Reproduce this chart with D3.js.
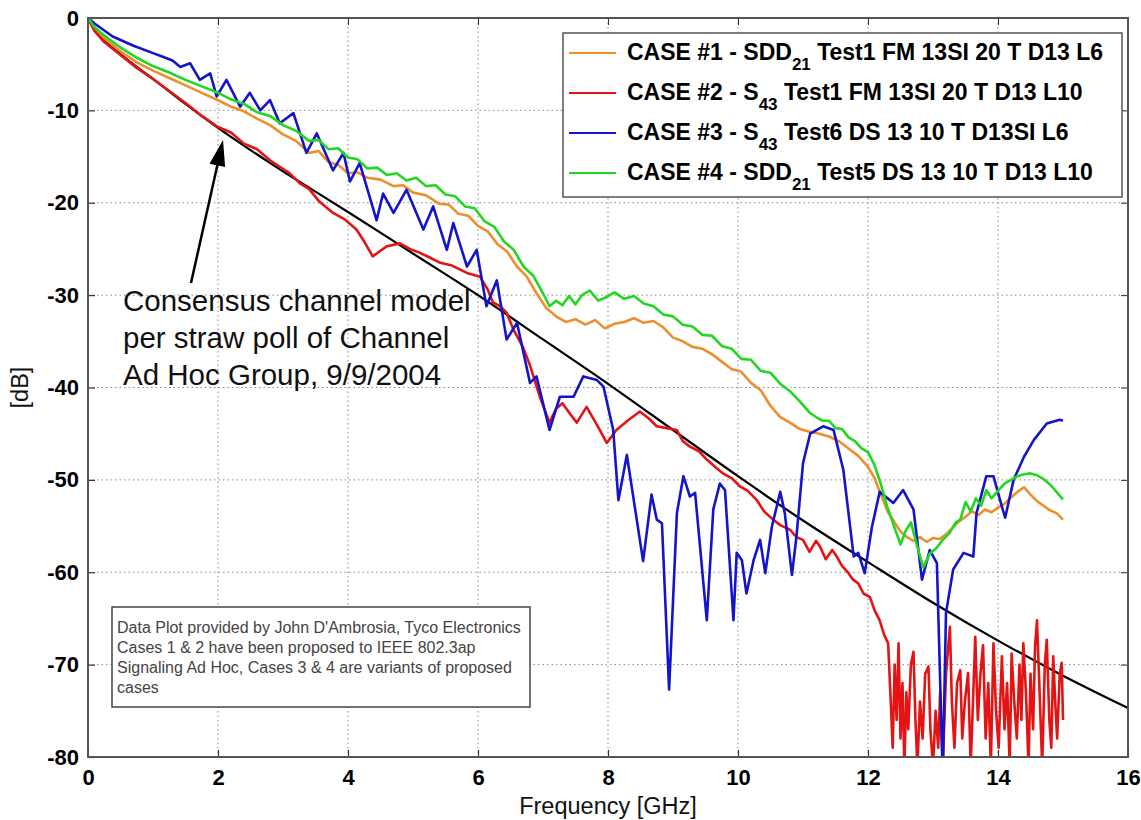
<!DOCTYPE html>
<html>
<head>
<meta charset="utf-8">
<title>Channel models</title>
<script src="https://cdn.jsdelivr.net/npm/d3@7"></script>
<style>
body { margin: 0; background: #fff; }
.ax-title { font: 23.5px "Liberation Sans", Arial, sans-serif; fill: #111; }
.legend text { font: bold 23px "Liberation Sans", Arial, sans-serif; fill: #000; }
.note text { font: 16px "Liberation Sans", Arial, sans-serif; fill: #444; }
.callout text { font: 29.5px "Liberation Sans", Arial, sans-serif; fill: #111; }
.grid line { stroke: #888; stroke-width: 1; stroke-dasharray: 1.5,3; }
text.tlbl { font-family: "Liberation Sans", Arial, sans-serif !important; font-size: 22px !important; font-weight: 700 !important; fill: #000; }
</style>
</head>
<body>
<div id="chart"></div>
<script>
// axis ticks
var freqTicks = [0, 2, 4, 6, 8, 10, 12, 14, 16];
var dbTicks = [0, -10, -20, -30, -40, -50, -60, -70, -80];

// legend
var legendPre = ["CASE #1 - SDD", "CASE #2 - S", "CASE #3 - S", "CASE #4 - SDD"];
var legendSub = ["21", "43", "43", "21"];
var legendPost = [" Test1 FM 13SI 20 T D13 L6", " Test1 FM 13SI 20 T D13 L10",
                  " Test6 DS 13 10 T D13SI L6", " Test5 DS 13 10 T D13 L10"];
var colors = ["#ec8f2c", "#e41414", "#1414c8", "#22d622"];

var noteLines = ["Data Plot provided by John D'Ambrosia, Tyco Electronics",
                 "Cases 1 & 2 have been proposed to IEEE 802.3ap",
                 "Signaling Ad Hoc, Cases 3 & 4 are variants of proposed",
                 "cases"];
var calloutLines = ["Consensus channel model", "per straw poll of Channel", "Ad Hoc Group, 9/9/2004"];

// consensus model (black) [GHz, dB]
var model = [[0,0],[0.1,-1.3],[0.25,-2.4],[0.5,-3.9],[0.75,-5.3],[1,-6.6],[1.5,-9.3],[2,-11.9],
  [2.5,-14.3],[3,-16.6],[3.5,-18.8],[4,-21],[5,-25.5],[6,-30],[7,-34.8],[8,-39.6],[9,-44.6],
  [10,-49.6],[11,-54.4],[12,-58.9],[13,-63.3],[14,-67.4],[15,-71.2],[16,-74.7]];

// case 1 (orange)
var case1 = [[0,0],[0.1,-1.2],[0.25,-2.2],[0.5,-3.6],[0.75,-4.8],[1,-5.7],[1.25,-6.5],[1.5,-7.3],
  [1.75,-8.1],[2,-8.9],[2.2,-9.6],[2.4,-10.1],[2.6,-10.9],[2.8,-11.6],[3,-12.6],[3.2,-13.3],
  [3.4,-14.6],[3.55,-14.4],[3.7,-15.6],[3.85,-15.9],[4,-16.8],[4.15,-16.7],[4.3,-17.3],[4.5,-17.5],
  [4.7,-18.2],[4.85,-18.1],[5,-18.9],[5.2,-19.2],[5.4,-20.1],[5.55,-20.2],[5.7,-21.2],[5.85,-21.4],
  [6,-22.5],[6.15,-23.1],[6.3,-24.5],[6.45,-25.3],[6.6,-26.9],[6.75,-28],[6.9,-29.8],[7.05,-31.4],
  [7.2,-32.3],[7.35,-32.9],[7.5,-32.6],[7.65,-33.2],[7.8,-32.7],[7.95,-33.6],[8.1,-33.1],[8.25,-32.9],
  [8.4,-32.5],[8.55,-33],[8.7,-32.8],[8.85,-33.5],[9,-34.6],[9.15,-35],[9.3,-35.6],[9.45,-35.8],
  [9.6,-36.4],[9.75,-37.2],[9.9,-38],[10.05,-38.3],[10.2,-39.5],[10.35,-40.3],[10.5,-42],[10.65,-43.2],
  [10.8,-43.8],[10.95,-44.5],[11.1,-44.8],[11.25,-45],[11.4,-45.3],[11.55,-45.8],[11.7,-46.6],
  [11.85,-47.4],[12,-48.6],[12.1,-49.8],[12.2,-51.6],[12.3,-53.4],[12.4,-54.5],[12.5,-55.6],
  [12.6,-56.2],[12.7,-56.6],[12.8,-56.2],[12.9,-56.7],[13,-56.3],[13.1,-56.4],[13.2,-55.9],
  [13.3,-55.2],[13.4,-54.5],[13.5,-54],[13.6,-53.4],[13.7,-53.8],[13.8,-53.2],[13.9,-53.5],
  [14,-53],[14.1,-52.6],[14.2,-51.9],[14.3,-51.3],[14.4,-50.8],[14.5,-51.6],[14.6,-52.3],
  [14.7,-52.8],[14.8,-53.3],[14.9,-53.6],[15,-54.3]];

// case 2 (red)
var case2 = [[0,0],[0.1,-1.4],[0.25,-2.6],[0.5,-4],[0.75,-5.4],[1,-6.6],[1.25,-7.9],[1.5,-9.2],
  [1.75,-10.6],[2,-11.8],[2.2,-12.4],[2.4,-13.6],[2.6,-14.2],[2.8,-15.4],[2.95,-16.1],[3.1,-16.8],
  [3.26,-17.9],[3.4,-18.5],[3.55,-19.8],[3.77,-21.1],[3.95,-21.8],[4.13,-22.9],[4.25,-24.2],
  [4.38,-25.8],[4.5,-25.2],[4.6,-24.7],[4.8,-24.4],[4.95,-25],[5.1,-25.4],[5.25,-25.9],[5.42,-26.5],
  [5.6,-26.8],[5.83,-27.6],[6.03,-28],[6.15,-29.4],[6.23,-30.8],[6.34,-31.2],[6.44,-31.9],
  [6.55,-33.8],[6.69,-35.6],[6.8,-37.6],[6.95,-41],[7.1,-43.8],[7.2,-42.3],[7.3,-41.7],[7.42,-42.9],
  [7.52,-43.8],[7.67,-42.1],[7.85,-44.3],[7.98,-46],[8.13,-44.6],[8.3,-43.6],[8.49,-42.6],
  [8.62,-43.3],[8.75,-44.2],[8.9,-44.4],[9.06,-44.6],[9.15,-45.8],[9.26,-46.4],[9.4,-46.9],
  [9.52,-47.8],[9.65,-48.6],[9.77,-49.3],[9.9,-49.8],[10.03,-50.7],[10.15,-51.2],[10.29,-52.2],
  [10.4,-53.4],[10.54,-54.3],[10.65,-54.9],[10.8,-55.4],[10.9,-56.2],[11,-56.5],[11.1,-57.8],
  [11.2,-56.6],[11.26,-57.2],[11.35,-58.6],[11.45,-57.6],[11.52,-58.3],[11.6,-59.3],[11.7,-60.1],
  [11.77,-60.8],[11.85,-61.2],[11.93,-62.3],[12.03,-62.7],[12.1,-64.1],[12.18,-65.2],[12.25,-66.8],
  [12.31,-67.7],[12.35,-74],[12.38,-79],[12.41,-70],[12.44,-76],[12.47,-67.7],[12.5,-78],
  [12.53,-72],[12.56,-81],[12.59,-73],[12.62,-77],[12.66,-70],[12.7,-68.6],[12.73,-76],[12.76,-81],
  [12.8,-74],[12.84,-78],[12.88,-71],[12.93,-70.2],[12.96,-77],[13,-81],[13.04,-75],[13.08,-79],
  [13.11,-73],[13.15,-81],[13.2,-71],[13.26,-65.9],[13.29,-74],[13.33,-79],[13.37,-72],[13.42,-70.6],
  [13.45,-78],[13.49,-74],[13.54,-70.9],[13.58,-81],[13.62,-73],[13.65,-67],[13.69,-76],[13.73,-71],
  [13.77,-67.9],[13.81,-78],[13.85,-72],[13.89,-81],[13.93,-67.7],[13.97,-75],[14.01,-79],
  [14.06,-69.1],[14.1,-77],[14.14,-72],[14.18,-81],[14.21,-68.8],[14.25,-74],[14.29,-78],
  [14.33,-70],[14.36,-76],[14.39,-67.7],[14.43,-73],[14.47,-81],[14.5,-71],[14.54,-77],[14.57,-68],
  [14.6,-65.2],[14.64,-73],[14.68,-81],[14.72,-70],[14.75,-67.3],[14.79,-76],[14.82,-79],
  [14.85,-69.1],[14.88,-74],[14.91,-78],[14.95,-71],[14.98,-69.8],[15,-76]];

// case 3 (blue)
var case3 = [[0,0],[0.1,-0.6],[0.38,-2],[0.7,-3],[1,-3.8],[1.15,-4.2],[1.3,-4.6],[1.42,-5.3],
  [1.57,-4.9],[1.72,-6.7],[1.88,-6],[1.98,-8.5],[2.13,-6.7],[2.34,-9.6],[2.49,-8.1],[2.65,-10],
  [2.8,-8.9],[2.95,-11.4],[3.16,-10.3],[3.36,-14.6],[3.52,-12.5],[3.77,-16.5],[3.93,-14.6],
  [4.03,-17.7],[4.18,-15.7],[4.44,-21.9],[4.54,-19],[4.7,-21.1],[4.9,-18.6],[5.16,-22.9],
  [5.31,-20.4],[5.52,-25.1],[5.62,-22.2],[5.83,-26.9],[5.98,-25.1],[6.13,-31.2],[6.29,-28.4],
  [6.44,-34.8],[6.6,-33],[6.8,-39.5],[6.9,-38.8],[7.1,-44.6],[7.26,-41],[7.47,-41],[7.62,-38.8],
  [7.83,-39.2],[7.93,-39.9],[8.08,-44.6],[8.16,-52.2],[8.29,-47.3],[8.54,-58.8],[8.67,-51.6],
  [8.75,-54.3],[8.83,-54.7],[8.94,-72.7],[9.06,-53.6],[9.16,-49.6],[9.26,-51.8],[9.34,-51.4],
  [9.52,-65.2],[9.62,-53.2],[9.72,-50.4],[9.8,-51.1],[9.93,-65.2],[9.98,-57.9],[10.06,-58.7],
  [10.13,-62.3],[10.24,-58.7],[10.34,-56.5],[10.42,-60.1],[10.52,-55.1],[10.65,-51.3],[10.72,-53.6],
  [10.83,-60.3],[10.9,-56.1],[11,-48.2],[11.11,-45],[11.31,-44.2],[11.47,-44.6],[11.62,-48.9],
  [11.78,-58.3],[11.85,-57.9],[11.95,-60.1],[12.06,-55.1],[12.18,-51.3],[12.39,-52.5],[12.54,-51.1],
  [12.7,-53.2],[12.83,-60.8],[12.95,-57.6],[13.06,-59],[13.15,-82],[13.2,-64.4],[13.31,-59.7],
  [13.47,-57.9],[13.62,-58.3],[13.67,-53.6],[13.82,-49.6],[13.93,-49.6],[14.06,-52.9],[14.11,-54.1],
  [14.24,-50],[14.4,-47.5],[14.55,-45.7],[14.75,-43.9],[14.95,-43.5],[15,-43.6]];

// case 4 (green)
var case4 = [[0,0],[0.1,-1],[0.25,-1.9],[0.5,-3.2],[0.75,-4.3],[1,-5.2],[1.25,-5.9],[1.5,-6.7],
  [1.75,-7.4],[2,-8.1],[2.2,-8.8],[2.4,-9.3],[2.6,-10.2],[2.8,-10.6],[3,-11.6],[3.2,-12.2],
  [3.4,-13.3],[3.55,-13.2],[3.7,-14.2],[3.85,-14.1],[4,-15.1],[4.15,-15.3],[4.3,-16.3],[4.45,-16.2],
  [4.6,-17],[4.75,-16.8],[4.9,-17.6],[5.05,-17.3],[5.2,-18.2],[5.35,-18.1],[5.5,-19.1],[5.65,-19.3],
  [5.8,-20.4],[5.95,-20.6],[6.1,-22],[6.25,-22.6],[6.4,-24.2],[6.55,-25.1],[6.7,-26.9],[6.85,-27.9],
  [7,-29.8],[7.1,-31.2],[7.2,-30.6],[7.3,-31.1],[7.4,-30.1],[7.5,-31],[7.6,-30],[7.72,-29.5],
  [7.85,-30.6],[7.98,-30.2],[8.1,-29.7],[8.25,-30.4],[8.4,-30.1],[8.55,-30.9],[8.7,-31.2],
  [8.85,-32.1],[9,-32.3],[9.15,-33.2],[9.3,-33.4],[9.45,-34.3],[9.6,-34.4],[9.75,-35.5],[9.9,-35.8],
  [10.05,-36.9],[10.2,-37],[10.35,-38.2],[10.5,-38.4],[10.65,-39.6],[10.8,-40.4],[10.95,-41.5],
  [11.1,-42.7],[11.2,-43.2],[11.3,-43.6],[11.4,-43.6],[11.5,-44.4],[11.6,-44.5],[11.7,-45.4],
  [11.8,-45.8],[11.9,-46.6],[12,-47],[12.1,-48.4],[12.2,-50.5],[12.3,-53],[12.4,-55],[12.5,-57],
  [12.58,-55.5],[12.66,-54.6],[12.75,-57],[12.85,-59.5],[12.95,-58],[13.05,-57.4],[13.15,-56.5],
  [13.25,-55.8],[13.35,-54.6],[13.42,-54.3],[13.5,-52.4],[13.58,-53.4],[13.66,-52],[13.74,-52.8],
  [13.82,-51.1],[13.9,-52],[14,-51.2],[14.1,-50.4],[14.2,-50],[14.3,-49.6],[14.4,-49.4],[14.5,-49.3],
  [14.6,-49.5],[14.7,-49.9],[14.8,-50.5],[14.9,-51.3],[15,-52.1]];

var series = [case1, case2, case3, case4];

var W = 1141, H = 820;
var margin = {top: 18, right: 13, bottom: 63, left: 88},
  width = W - margin.left - margin.right,
  height = H - margin.top - margin.bottom;

var root = d3.select("#chart").append("svg")
  .attr("width", W).attr("height", H);
var svg = root.append("g")
  .attr("transform", "translate(" + margin.left + "," + margin.top + ")");

var x = d3.scaleLinear().domain([0, 16]).range([0, width]);
var y = d3.scaleLinear().domain([-80, 0]).range([height, 0]);

svg.append("defs").append("clipPath").attr("id", "plotclip")
  .append("rect").attr("width", width).attr("height", height);

// grid
var grid = svg.append("g").attr("class", "grid");
grid.selectAll(".gx").data(freqTicks.slice(1, -1)).enter().append("line")
  .attr("x1", function(d) { return x(d); }).attr("x2", function(d) { return x(d); })
  .attr("y1", 0).attr("y2", height);
grid.selectAll(".gy").data(dbTicks.slice(1, -1)).enter().append("line")
  .attr("y1", function(d) { return y(d); }).attr("y2", function(d) { return y(d); })
  .attr("x1", 0).attr("x2", width);

// axes (labels) with inward ticks; plain hyphen for negatives
var fmt = function(d) { return String(d); };
var xAxis = d3.axisBottom(x).tickValues(freqTicks).tickSize(-7).tickPadding(12).tickFormat(fmt);
var yAxis = d3.axisLeft(y).tickValues(dbTicks).tickSize(-7).tickPadding(9).tickFormat(fmt);
var gx = svg.append("g").attr("transform", "translate(0," + height + ")").call(xAxis);
var gy = svg.append("g").call(yAxis);
[gx, gy].forEach(function(g) {
  g.select(".domain").remove();
  g.attr("font-family", null).attr("font-size", null);
  g.selectAll(".tick line").attr("stroke", "#333").attr("stroke-width", 1.2);
  g.selectAll(".tick text").attr("class", "tlbl").attr("font-weight", "bold");
});
// ticks on top and right too
svg.append("g").call(d3.axisTop(x).tickValues(freqTicks).tickSize(-7).tickFormat(""))
  .call(function(g) { g.select(".domain").remove(); g.selectAll("line").attr("stroke", "#333"); });
svg.append("g").attr("transform", "translate(" + width + ",0)")
  .call(d3.axisRight(y).tickValues(dbTicks).tickSize(-7).tickFormat(""))
  .call(function(g) { g.select(".domain").remove(); g.selectAll("line").attr("stroke", "#333"); });

// curves
var line = d3.line()
  .x(function(d) { return x(d[0]); })
  .y(function(d) { return y(d[1]); });
var plot = svg.append("g").attr("clip-path", "url(#plotclip)");
plot.append("path").datum(model)
  .attr("d", line.curve(d3.curveMonotoneX))
  .attr("fill", "none").attr("stroke", "#000").attr("stroke-width", 2.2);
line.curve(d3.curveLinear);
series.forEach(function(s, i) {
  plot.append("path").datum(s)
    .attr("d", line)
    .attr("fill", "none")
    .attr("stroke", colors[i])
    .attr("stroke-width", 2.6)
    .attr("stroke-linejoin", "round");
});

// frame
svg.append("rect").attr("width", width).attr("height", height)
  .attr("fill", "none").attr("stroke", "#555").attr("stroke-width", 2);

// axis titles
svg.append("text").attr("class", "ax-title")
  .attr("x", width / 2).attr("y", height + 57)
  .attr("text-anchor", "middle").text("Frequency [GHz]");
svg.append("text").attr("class", "ax-title")
  .attr("transform", "translate(" + (-60) + "," + y(-40) + ") rotate(-90)")
  .attr("text-anchor", "middle").text("[dB]");

// legend
var leg = svg.append("g").attr("class", "legend")
  .attr("transform", "translate(" + (563 - margin.left) + "," + (33 - margin.top) + ")");
leg.append("rect").attr("width", 559).attr("height", 164)
  .attr("fill", "#fff").attr("stroke", "#555").attr("stroke-width", 1.5);
legendPre.forEach(function(p, i) {
  var cy = 20 + i * 40;
  leg.append("line").attr("x1", 6).attr("x2", 53).attr("y1", cy).attr("y2", cy)
    .attr("stroke", colors[i]).attr("stroke-width", 2);
  var t = leg.append("text").attr("x", 64).attr("y", cy + 7);
  t.append("tspan").text(p);
  t.append("tspan").attr("dy", 10).style("font-size", "17px").text(legendSub[i]);
  t.append("tspan").attr("dy", -10).text(legendPost[i]);
});

// note box
var note = svg.append("g").attr("class", "note")
  .attr("transform", "translate(" + (112 - margin.left) + "," + (607 - margin.top) + ")");
note.append("rect").attr("width", 418).attr("height", 100)
  .attr("fill", "#fff").attr("stroke", "#444").attr("stroke-width", 1.5);
noteLines.forEach(function(s, i) {
  note.append("text").attr("x", 5).attr("y", 26 + i * 20).text(s);
});

// callout
var call = svg.append("g").attr("class", "callout");
calloutLines.forEach(function(s, i) {
  call.append("text").attr("x", 123 - margin.left).attr("y", 311 - margin.top + i * 37).text(s);
});
var ax0 = 191 - margin.left, ay0 = 283 - margin.top, ax1 = 223 - margin.left, ay1 = 140 - margin.top;
var ang = Math.atan2(ay1 - ay0, ax1 - ax0);
call.append("line")
  .attr("x1", ax0).attr("y1", ay0)
  .attr("x2", ax1 - 20 * Math.cos(ang)).attr("y2", ay1 - 20 * Math.sin(ang))
  .attr("stroke", "#000").attr("stroke-width", 2.5);
call.append("path")
  .attr("d", d3.line()([
    [ax1, ay1],
    [ax1 - 26 * Math.cos(ang) + 8 * Math.sin(ang), ay1 - 26 * Math.sin(ang) - 8 * Math.cos(ang)],
    [ax1 - 26 * Math.cos(ang) - 8 * Math.sin(ang), ay1 - 26 * Math.sin(ang) + 8 * Math.cos(ang)]
  ]) + "Z")
  .attr("fill", "#000");
</script>
</body>
</html>
